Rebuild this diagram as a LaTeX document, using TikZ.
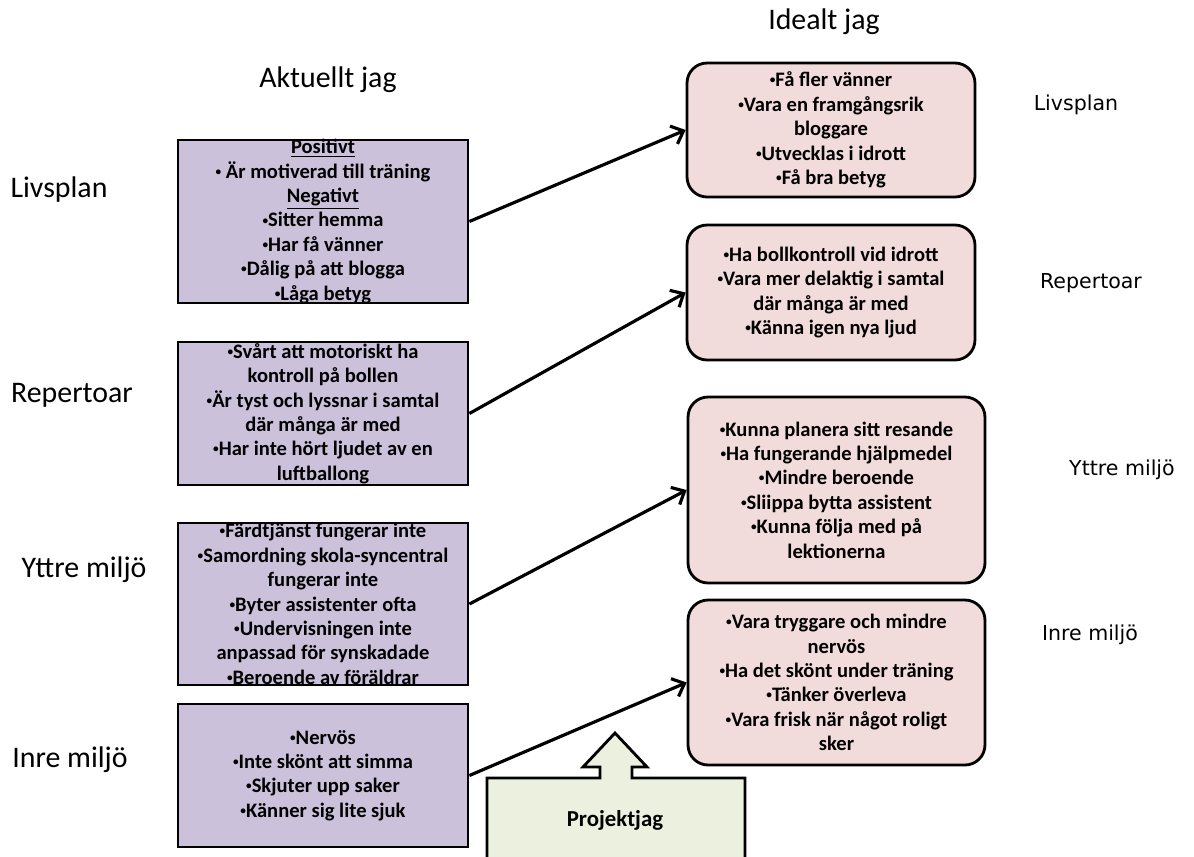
\documentclass[tikz,border=0pt]{standalone}
\usepackage{fontspec}
\setmainfont{Carlito}
\newfontfamily\sidefont{DejaVu Sans}
\usetikzlibrary{arrows.meta}
\definecolor{aktfill}{HTML}{CCC1DA}
\definecolor{idfill}{HTML}{F2DCDB}
\definecolor{projfill}{HTML}{EBF1DE}
\newcommand{\bul}{\raisebox{0.3ex}{\scalebox{0.55}{•}}}

\begin{document}
\begin{tikzpicture}[x=0.02cm, y=-0.02cm,
    boxtext/.style={align=center, inner xsep=2pt, inner ysep=-4pt, font=\bfseries\fontsize{11.7}{13.9}\selectfont},
    aktbox/.style={boxtext, rectangle, draw, line width=1.6pt, fill=aktfill, minimum width=5.8cm},
    idbox/.style={boxtext, rectangle, draw, line width=1.6pt, fill=idfill, rounded corners=0.4cm},
    heading/.style={font=\fontsize{17}{20}\selectfont},
    sidelabel/.style={font=\sidefont\fontsize{11.7}{14}\selectfont},
    link/.style={-{Straight Barb[length=6pt, width=11pt]}, line width=1.8pt}]
    \clip (0,0) rectangle (1194,856);

    % headings and row labels
    \node (aktuellt) [heading] at (328,80) {Aktuellt jag};
    \node (idealt) [heading] at (824,22) {Idealt jag};
    \node (livL) [heading] at (59,190) {Livsplan};
    \node (repL) [heading] at (72,395) {Repertoar};
    \node (yttL) [heading] at (84,570) {Yttre miljö};
    \node (inrL) [heading] at (70,760) {Inre miljö};
    \node (livR) [sidelabel] at (1076,105) {Livsplan};
    \node (repR) [sidelabel] at (1091,283) {Repertoar};
    \node (yttR) [sidelabel] at (1122,470) {Yttre miljö};
    \node (inrR) [sidelabel] at (1090,635) {Inre miljö};

    % aktuellt jag
    \node (akt1) [aktbox, minimum height=3.26cm] at (323,221.5) {\underline{Positivt}\\\bul\ Är motiverad till träning\\\underline{Negativt}\\\bul Sitter hemma\\\bul Har få vänner\\\bul Dålig på att blogga\\\bul Låga betyg};
    \node (akt2) [aktbox, minimum height=2.86cm] at (323,413.5) {\bul Svårt att motoriskt ha\\kontroll på bollen\\\bul Är tyst och lyssnar i samtal\\där många är med\\\bul Har inte hört ljudet av en\\luftballong};
    \node (akt3) [aktbox, minimum height=3.24cm] at (323,604) {\bul Färdtjänst fungerar inte\\\bul Samordning skola-syncentral\\fungerar inte\\\bul Byter assistenter ofta\\\bul Undervisningen inte\\anpassad för synskadade\\\bul Beroende av föräldrar};
    \node (akt4) [aktbox, minimum height=2.86cm] at (323,775.5) {\bul Nervös\\\bul Inte skönt att simma\\\bul Skjuter upp saker\\\bul Känner sig lite sjuk};

    % idealt jag
    \node (id1) [idbox, minimum width=5.76cm, minimum height=2.68cm] at (831,130) {\bul Få fler vänner\\\bul Vara en framgångsrik\\bloggare\\\bul Utvecklas i idrott\\\bul Få bra betyg};
    \node (id2) [idbox, minimum width=5.76cm, minimum height=2.7cm] at (831,292.5) {\bul Ha bollkontroll vid idrott\\\bul Vara mer delaktig i samtal\\där många är med\\\bul Känna igen nya ljud};
    \node (id3) [idbox, minimum width=5.94cm, minimum height=3.72cm] at (836.5,490) {\bul Kunna planera sitt resande\\\bul Ha fungerande hjälpmedel\\\bul Mindre beroende\\\bul Sliippa bytta assistent\\\bul Kunna följa med på\\lektionerna};
    \node (id4) [idbox, minimum width=5.94cm, minimum height=3.3cm] at (836.5,682.5) {\bul Vara tryggare och mindre\\nervös\\\bul Ha det skönt under träning\\\bul Tänker överleva\\\bul Vara frisk när något roligt\\sker};

    \draw[link] (akt1.east) -- (id1.west);
    \draw[link] (akt2.east) -- (id2.west);
    \draw[link] (akt3.east) -- (id3.west);
    \draw[link] (akt4.east) -- (id4.west);

    % projektjag with its up arrow
    \draw[line width=1.6pt, fill=projfill] (487,880) -- (487,778) -- (600,778) -- (600,767) -- (583,767) -- (615,733)
        -- (647,767) -- (632,767) -- (632,778) -- (745,778) -- (745,880) -- cycle;
    \node (proj) [boxtext, font=\bfseries\fontsize{13}{15}\selectfont] at (615,820) {Projektjag};
\end{tikzpicture}
\end{document}
